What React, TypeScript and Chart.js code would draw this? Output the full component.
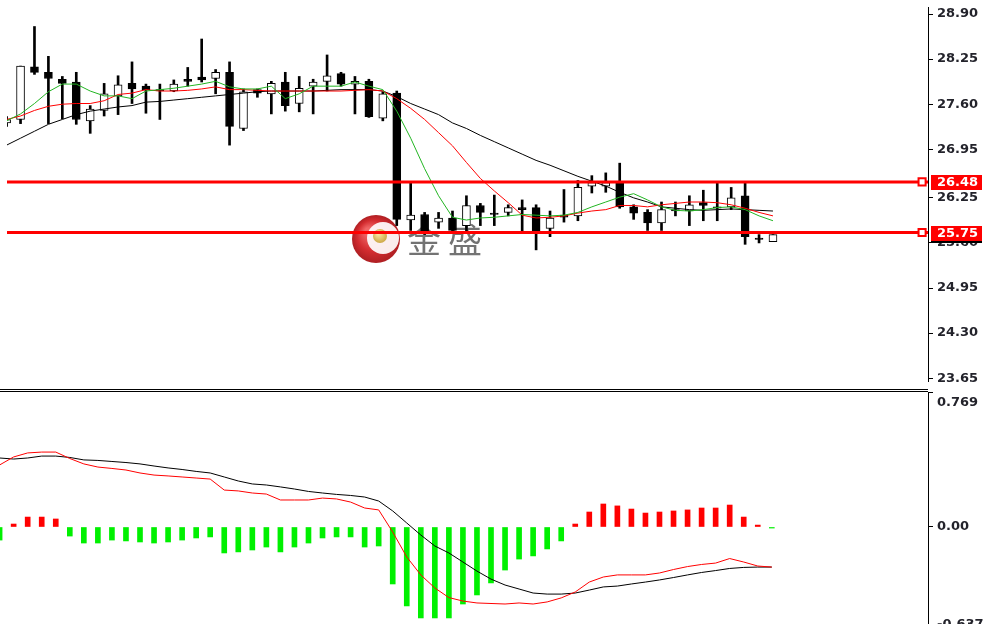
import React, { useEffect, useRef } from 'react';
import { Chart, registerables } from 'chart.js';

Chart.register(...registerables);

// ---------------- data ----------------
const barIndex = [
  0, 1, 2, 3, 4, 5, 6, 7, 8, 9, 10, 11, 12, 13, 14, 15, 16, 17, 18, 19,
  20, 21, 22, 23, 24, 25, 26, 27, 28, 29, 30, 31, 32, 33, 34, 35, 36, 37, 38, 39,
  40, 41, 42, 43, 44, 45, 46, 47, 48, 49, 50, 51, 52, 53, 54, 55,
];

const openP = [
  27.33, 27.38, 28.14, 28.06, 27.96, 27.92, 27.36, 27.51, 27.72, 27.90,
  27.86, 27.81, 27.79, 27.96, 27.99, 27.97, 28.06, 27.25, 27.81, 27.75,
  27.92, 27.61, 27.86, 27.93, 28.04, 27.89, 27.93, 27.40, 27.76, 25.93,
  26.01, 25.90, 25.96, 25.85, 26.14, 26.03, 26.04, 26.11, 26.11, 25.81,
  26.00, 25.99, 26.42, 26.42, 26.46, 26.12, 26.04, 25.89, 26.08, 26.06,
  26.18, 26.12, 26.12, 26.28, 25.67, 25.62,
];
const highP = [
  27.42, 28.15, 28.72, 28.29, 28.00, 28.06, 27.58, 27.90, 28.01, 28.21,
  27.89, 27.89, 27.95, 28.13, 28.54, 28.10, 28.21, 27.82, 27.82, 27.93,
  28.06, 28.00, 27.96, 28.31, 28.06, 28.00, 27.96, 27.78, 27.79, 26.46,
  26.04, 26.04, 26.06, 26.28, 26.17, 26.29, 26.15, 26.22, 26.15, 26.06,
  26.37, 26.50, 26.57, 26.61, 26.75, 26.15, 26.08, 26.19, 26.19, 26.28,
  26.36, 26.47, 26.40, 26.46, 25.72, 25.72,
];
const lowP = [
  27.28, 27.32, 28.03, 27.32, 27.39, 27.31, 27.18, 27.43, 27.45, 27.61,
  27.47, 27.38, 27.78, 27.86, 27.92, 27.75, 27.01, 27.22, 27.70, 27.46,
  27.50, 27.49, 27.46, 27.79, 27.86, 27.46, 27.41, 27.36, 25.85, 25.78,
  25.72, 25.81, 25.74, 25.76, 25.85, 25.85, 25.99, 25.76, 25.50, 25.69,
  25.90, 25.92, 26.32, 26.33, 26.10, 25.94, 25.78, 25.78, 25.99, 25.85,
  25.92, 25.92, 26.08, 25.58, 25.60, 25.62,
];
const closeP = [
  27.38, 28.15, 28.06, 27.97, 27.90, 27.38, 27.53, 27.75, 27.88, 27.82,
  27.81, 27.79, 27.89, 27.93, 27.95, 28.06, 27.28, 27.78, 27.76, 27.90,
  27.58, 27.83, 27.92, 28.01, 27.89, 27.93, 27.42, 27.75, 25.94, 26.00,
  25.76, 25.96, 25.78, 26.14, 26.04, 26.01, 26.11, 26.08, 25.76, 25.96,
  25.97, 26.40, 26.47, 26.47, 26.12, 26.03, 25.89, 26.08, 26.06, 26.15,
  26.14, 26.10, 26.25, 25.69, 25.65, 25.72,
];

const maFast = [
  27.36, 27.46, 27.61, 27.78, 27.89, 27.89, 27.79, 27.72, 27.72, 27.68,
  27.79, 27.81, 27.83, 27.86, 27.89, 27.93, 27.85, 27.82, 27.82, 27.86,
  27.68, 27.75, 27.86, 27.86, 27.86, 27.92, 27.86, 27.81, 27.50, 27.11,
  26.67, 26.28, 25.97, 25.93, 25.96, 25.97, 25.99, 26.01, 26.00, 25.99,
  26.00, 26.04, 26.12, 26.19, 26.26, 26.31, 26.22, 26.12, 26.07, 26.06,
  26.08, 26.11, 26.12, 26.08, 25.99, 25.92,
];
const maMid = [
  27.38, 27.43, 27.51, 27.57, 27.60, 27.61, 27.61, 27.65, 27.74, 27.76,
  27.81, 27.79, 27.79, 27.80, 27.82, 27.85, 27.81, 27.81, 27.80, 27.79,
  27.79, 27.79, 27.79, 27.79, 27.79, 27.80, 27.81, 27.79, 27.68, 27.54,
  27.38, 27.19, 27.00, 26.76, 26.53, 26.35, 26.18, 26.00, 25.96, 25.97,
  25.99, 26.03, 26.06, 26.08, 26.14, 26.14, 26.12, 26.15, 26.17, 26.19,
  26.19, 26.18, 26.15, 26.10, 26.04, 25.99,
];
const maSlow = [
  27.01, 27.11, 27.21, 27.31, 27.38, 27.45, 27.50, 27.53, 27.56, 27.58,
  27.63, 27.64, 27.66, 27.68, 27.70, 27.72, 27.74, 27.76, 27.78, 27.79,
  27.79, 27.79, 27.79, 27.80, 27.81, 27.81, 27.81, 27.79, 27.71, 27.61,
  27.53, 27.45, 27.33, 27.25, 27.15, 27.06, 26.97, 26.88, 26.79, 26.72,
  26.64, 26.56, 26.49, 26.42, 26.33, 26.25, 26.19, 26.12, 26.10, 26.08,
  26.07, 26.08, 26.09, 26.08, 26.07, 26.06,
];

const levelLines = [26.48, 25.75];
const bidPrice = 25.72;
const priceTicks = [28.9, 28.25, 27.6, 26.95, 26.25, 25.6, 24.95, 24.3, 23.65];

const macdHist = [
  -0.075, 0.017, 0.057, 0.057, 0.046, -0.052, -0.092, -0.092, -0.075, -0.080,
  -0.086, -0.092, -0.086, -0.075, -0.063, -0.057, -0.149, -0.143, -0.132, -0.115,
  -0.143, -0.115, -0.092, -0.063, -0.057, -0.057, -0.115, -0.109, -0.327, -0.453,
  -0.522, -0.522, -0.522, -0.442, -0.390, -0.321, -0.247, -0.184, -0.166, -0.126,
  -0.080, 0.017, 0.086, 0.132, 0.121, 0.103, 0.080, 0.086, 0.092, 0.098,
  0.109, 0.109, 0.126, 0.057, 0.011, -0.006,
];
const macdDif = [
  0.356, 0.402, 0.425, 0.430, 0.430, 0.393, 0.362, 0.344, 0.336, 0.327,
  0.310, 0.298, 0.293, 0.287, 0.281, 0.275, 0.212, 0.207, 0.195, 0.189,
  0.155, 0.155, 0.155, 0.166, 0.161, 0.143, 0.109, 0.098, -0.029, -0.172,
  -0.275, -0.350, -0.405, -0.425, -0.436, -0.439, -0.442, -0.436, -0.442, -0.430,
  -0.407, -0.373, -0.316, -0.287, -0.275, -0.275, -0.275, -0.264, -0.244, -0.227,
  -0.215, -0.207, -0.181, -0.201, -0.224, -0.230,
];
const macdDea = [
  0.396, 0.390, 0.396, 0.407, 0.407, 0.399, 0.385, 0.382, 0.376, 0.370,
  0.362, 0.350, 0.339, 0.330, 0.319, 0.310, 0.287, 0.264, 0.247, 0.241,
  0.230, 0.218, 0.204, 0.195, 0.187, 0.181, 0.172, 0.149, 0.092, 0.023,
  -0.046, -0.109, -0.149, -0.201, -0.253, -0.299, -0.333, -0.356, -0.379, -0.385,
  -0.385, -0.379, -0.362, -0.344, -0.339, -0.327, -0.316, -0.304, -0.290, -0.275,
  -0.261, -0.250, -0.238, -0.232, -0.230, -0.230,
];
const macdTopLabel = 0.769;
const macdBottomLabel = -0.637;

// ---------------- layout constants ----------------
const X_MIN = 0.0285;
const X_MAX = 66.125;
const PRICE_MIN = 23.6095;
const PRICE_MAX = 29.0014;
const MACD_MAX = 0.7747;
const MACD_MIN = -0.5567;
const MARKER_X = 65.7;
const AXIS_FAMILY = '"DejaVu Sans", sans-serif';
const AXIS_SIZE = 13;
const AXIS_WEIGHT = 'bold';
const AXIS_COLOR = '#23232b';

const watermarkPlugin = {
  id: 'watermark',
  beforeDatasetsDraw(chart: any) {
    const ctx = chart.ctx;
    ctx.save();
    const cx = 376, cy = 239, r = 24;
    ctx.globalAlpha = 0.92;
    const g = ctx.createRadialGradient(cx - 8, cy - 8, 3, cx, cy, r);
    g.addColorStop(0, '#f05a5a');
    g.addColorStop(0.6, '#d01a1e');
    g.addColorStop(1, '#a80c10');
    ctx.fillStyle = g;
    ctx.beginPath();
    ctx.arc(cx, cy, r, 0, Math.PI * 2);
    ctx.fill();
    ctx.fillStyle = '#ffffff';
    ctx.beginPath();
    ctx.arc(cx + 7, cy - 1, 16, 0, Math.PI * 2);
    ctx.fill();
    const gg = ctx.createRadialGradient(cx + 2, cy - 6, 1, cx + 4, cy - 3, 8);
    gg.addColorStop(0, '#fbe9a0');
    gg.addColorStop(1, '#c49a2c');
    ctx.fillStyle = gg;
    ctx.beginPath();
    ctx.arc(cx + 4, cy - 3, 7, 0, Math.PI * 2);
    ctx.fill();
    ctx.globalAlpha = 0.85;
    ctx.fillStyle = '#5a5a5a';
    ctx.font = '34px "Noto Sans CJK SC", sans-serif';
    ctx.textBaseline = 'middle';
    ctx.textAlign = 'left';
    ctx.fillText('金', 407, 240);
    ctx.fillText('盛', 448, 240);
    ctx.restore();
  },
};

const priceTagPlugin = {
  id: 'priceTags',
  afterDraw(chart: any) {
    const ctx = chart.ctx;
    const ys = chart.scales.y;
    const x0 = chart.chartArea.right + 3;
    const tag = (v: number, bg: string) => {
      const py = Math.round(ys.getPixelForValue(v));
      ctx.fillStyle = bg;
      ctx.fillRect(x0, py - 7, 51, 15);
      ctx.fillStyle = '#ffffff';
      ctx.font = `${AXIS_WEIGHT} ${AXIS_SIZE}px ${AXIS_FAMILY}`;
      ctx.textBaseline = 'middle';
      ctx.textAlign = 'left';
      ctx.fillText(v.toFixed(2), x0 + 6, py + 1);
    };
    ctx.save();
    tag(bidPrice, '#000000');
    levelLines.forEach((v) => tag(v, '#ff0000'));
    ctx.restore();
  },
};

const macdLabelPlugin = {
  id: 'macdLabels',
  afterDraw(chart: any) {
    const ctx = chart.ctx;
    const ys = chart.scales.y;
    const x0 = chart.chartArea.right + 9;
    ctx.save();
    ctx.fillStyle = AXIS_COLOR;
    ctx.font = `${AXIS_WEIGHT} ${AXIS_SIZE}px ${AXIS_FAMILY}`;
    ctx.textBaseline = 'middle';
    ctx.textAlign = 'left';
    ctx.fillText(macdTopLabel.toFixed(3), x0, ys.getPixelForValue(macdTopLabel) + 10);
    ctx.fillText(macdBottomLabel.toFixed(3), x0, chart.height + 1);
    ctx.restore();
  },
};

export default function App() {
  const priceRef = useRef<HTMLCanvasElement>(null);
  const macdRef = useRef<HTMLCanvasElement>(null);

  useEffect(() => {
    document.body.style.margin = '0';
    const pts = (arr: number[]) => barIndex.map((i) => ({ x: i, y: arr[i] }));
    const axisFont = { family: AXIS_FAMILY, size: AXIS_SIZE, weight: AXIS_WEIGHT };

    const priceChart = new Chart(priceRef.current as HTMLCanvasElement, {
      type: 'bar',
      data: {
        datasets: [
          ...levelLines.map((v) => ({
            type: 'line',
            data: [{ x: X_MIN, y: v }, { x: X_MAX, y: v }],
            borderColor: '#ff0000',
            borderWidth: 3,
            pointRadius: 0,
            order: 0,
          })),
          {
            type: 'line',
            data: levelLines.map((v) => ({ x: MARKER_X, y: v })),
            showLine: false,
            pointStyle: 'rect',
            pointRadius: 5,
            pointBackgroundColor: '#ffffff',
            pointBorderColor: '#ff0000',
            pointBorderWidth: 2,
            order: -1,
          },
          { type: 'line', data: pts(maFast), borderColor: '#22b522', borderWidth: 1, pointRadius: 0, order: 1 },
          { type: 'line', data: pts(maMid), borderColor: '#ff0000', borderWidth: 1, pointRadius: 0, order: 1 },
          { type: 'line', data: pts(maSlow), borderColor: '#000000', borderWidth: 1, pointRadius: 0, order: 1 },
          {
            type: 'bar',
            data: barIndex.map((i) => ({ x: i, y: [Math.min(openP[i], closeP[i]), Math.max(openP[i], closeP[i])] })),
            backgroundColor: barIndex.map((i) => (closeP[i] >= openP[i] ? '#ffffff' : '#000000')),
            borderColor: '#000000',
            borderWidth: 1,
            borderSkipped: false,
            barThickness: 8,
            grouped: false,
            order: 2,
          },
          {
            type: 'bar',
            data: barIndex.map((i) => ({ x: i, y: [lowP[i], highP[i]] })),
            backgroundColor: '#000000',
            borderWidth: 0,
            barThickness: 2,
            grouped: false,
            order: 3,
          },
        ] as any,
      },
      options: {
        animation: false,
        responsive: false,
        events: [],
        layout: { padding: 0 },
        plugins: { legend: { display: false }, tooltip: { enabled: false } },
        scales: {
          x: { type: 'linear', min: X_MIN, max: X_MAX, display: false, offset: false },
          y: {
            type: 'linear',
            position: 'right',
            min: PRICE_MIN,
            max: PRICE_MAX,
            beginAtZero: false,
            afterBuildTicks: (s: any) => {
              s.ticks = priceTicks.map((v) => ({ value: v }));
            },
            afterFit: (s: any) => {
              s.width = 55;
              s.paddingTop = 0;
              s.paddingBottom = 0;
            },
            ticks: {
              autoSkip: false,
              padding: 4,
              color: AXIS_COLOR,
              font: axisFont,
              callback: (v: any) => Number(v).toFixed(2),
            },
            grid: { drawOnChartArea: false, drawTicks: true, tickLength: 5, color: '#000000', lineWidth: 1 },
            border: { display: true, color: '#000000', width: 1 },
          },
        },
      } as any,
      plugins: [watermarkPlugin, priceTagPlugin],
    });

    const macdChart = new Chart(macdRef.current as HTMLCanvasElement, {
      type: 'bar',
      data: {
        datasets: [
          { type: 'line', data: pts(macdDif), borderColor: '#ff0000', borderWidth: 1, pointRadius: 0, order: 0 },
          { type: 'line', data: pts(macdDea), borderColor: '#000000', borderWidth: 1, pointRadius: 0, order: 0 },
          {
            type: 'bar',
            data: pts(macdHist),
            backgroundColor: macdHist.map((v) => (v >= 0 ? '#ff0000' : '#00f000')),
            borderWidth: 0,
            barThickness: 5,
            grouped: false,
            order: 1,
          },
        ] as any,
      },
      options: {
        animation: false,
        responsive: false,
        events: [],
        layout: { padding: 0 },
        plugins: { legend: { display: false }, tooltip: { enabled: false } },
        scales: {
          x: { type: 'linear', min: X_MIN, max: X_MAX, display: false, offset: false },
          y: {
            type: 'linear',
            position: 'right',
            min: MACD_MIN,
            max: MACD_MAX,
            beginAtZero: false,
            afterBuildTicks: (s: any) => {
              s.ticks = [{ value: macdTopLabel }, { value: 0 }];
            },
            afterFit: (s: any) => {
              s.width = 55;
              s.paddingTop = 0;
              s.paddingBottom = 0;
            },
            ticks: {
              autoSkip: false,
              padding: 4,
              color: AXIS_COLOR,
              font: axisFont,
              callback: (v: any) => (Number(v) === 0 ? '0.00' : ''),
            },
            grid: { drawOnChartArea: false, drawTicks: true, tickLength: 5, color: '#000000', lineWidth: 1 },
            border: { display: true, color: '#000000', width: 1 },
          },
        },
      } as any,
      plugins: [macdLabelPlugin],
    });

    return () => {
      priceChart.destroy();
      macdChart.destroy();
    };
  }, []);

  return (
    <div style={{ position: 'fixed', left: 0, top: 0, width: 983, height: 624, background: '#ffffff', overflow: 'hidden' }}>
      <canvas ref={priceRef} width={983} height={388} style={{ position: 'absolute', left: 0, top: 0 }} />
      <div
        style={{
          position: 'absolute',
          left: 0,
          top: 389,
          width: 928,
          height: 1,
          borderTop: '1px solid #000',
          borderBottom: '1px solid #000',
        }}
      />
      <canvas ref={macdRef} width={983} height={232} style={{ position: 'absolute', left: 0, top: 392 }} />
    </div>
  );
}
